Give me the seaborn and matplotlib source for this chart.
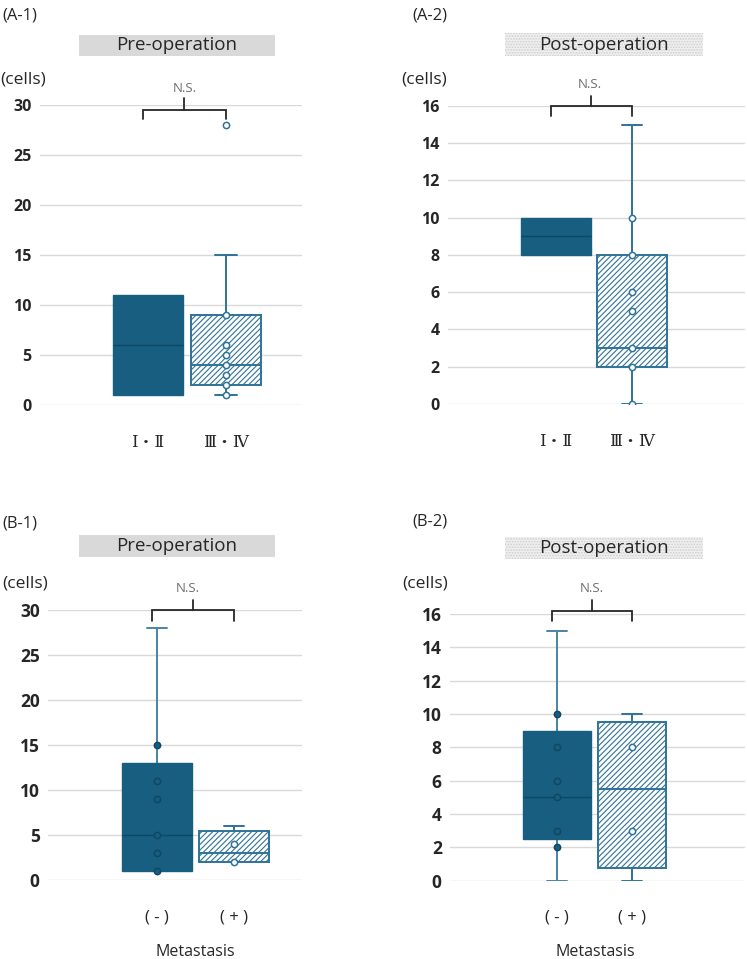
import matplotlib
matplotlib.use("Agg")
import matplotlib.pyplot as plt
import seaborn as sns
from matplotlib.patches import Rectangle
from matplotlib.transforms import blended_transform_factory

# ---------------- data ----------------
stage_cats = ["Ⅰ・Ⅱ", "Ⅲ・Ⅳ"]
meta_cats = ["( - )", "( + )"]

# A-1 pre-operation, by stage
A1_low = [1, 1]
A1_q1 = [1, 2]
A1_med = [6, 4]
A1_q3 = [11, 9]
A1_high = [11, 15]
A1_pts_g1 = []
A1_pts_g2 = [28, 9, 6, 5, 4, 3, 2, 1]

# A-2 post-operation, by stage
A2_low = [8, 0]
A2_q1 = [8, 2]
A2_med = [9, 3]
A2_q3 = [10, 8]
A2_high = [10, 15]
A2_pts_g1 = []
A2_pts_g2 = [10, 8, 6, 5, 3, 2, 0]

# B-1 pre-operation, by metastasis
B1_low = [1, 2]
B1_q1 = [1, 2]
B1_med = [5, 3]
B1_q3 = [13, 5.5]
B1_high = [28, 6]
B1_pts_g1 = [15, 11, 9, 5, 3, 1]
B1_pts_g2 = [4, 2]

# B-2 post-operation, by metastasis
B2_low = [0, 0]
B2_q1 = [2.5, 0.75]
B2_med = [5, 5.5]
B2_q3 = [9, 9.5]
B2_high = [15, 10]
B2_pts_g1 = [10, 8, 6, 5, 3, 2]
B2_pts_g2 = [8, 3]

# ---------------- style ----------------
sns.set_theme(style="white")
plt.rcParams['font.family'] = ['Open Sans', 'Noto Sans CJK JP', 'DejaVu Sans']
plt.rcParams['hatch.linewidth'] = 0.8

DARK = "#175E80"
DARK_EDGE = "#0F4862"
HATCH = "#2F7398"
WHISK = "#4A84A4"
GRID = "#D9D9D9"
TXT = "#262626"

W, H = 747, 959
fig = plt.figure(figsize=(W / 100, H / 100), dpi=100)


def fx(x):
    return x / W


def fy(y):
    return 1 - y / H


panels = [
    dict(name="(A-1)", box=(40, 105, 302, 405), centers=(148, 226), ymax=30, step=5,
         title="Pre-operation", dotted=False, cats=stage_cats, tsize=11.5,
         stats=(A1_low, A1_q1, A1_med, A1_q3, A1_high), pts=(A1_pts_g1, A1_pts_g2),
         lab=(2, 15), cells=(0, 80), trect=(79, 35, 275, 56), ns=(185, 88),
         br=(110, 119, 98), xlabel=None),
    dict(name="(A-2)", box=(448, 106, 745, 404), centers=(556, 632), ymax=16, step=2,
         title="Post-operation", dotted=True, cats=stage_cats, tsize=11.5,
         stats=(A2_low, A2_q1, A2_med, A2_q3, A2_high), pts=(A2_pts_g1, A2_pts_g2),
         lab=(412, 15), cells=(401, 80), trect=(505, 33, 703, 56), ns=(590, 85),
         br=(106, 116, 96), xlabel=None),
    dict(name="(B-1)", box=(48, 610, 302, 880), centers=(157, 234), ymax=30, step=5,
         title="Pre-operation", dotted=False, cats=meta_cats, tsize=12.5,
         stats=(B1_low, B1_q1, B1_med, B1_q3, B1_high), pts=(B1_pts_g1, B1_pts_g2),
         lab=(2, 523), cells=(2, 583), trect=(79, 535, 275, 557), ns=(188, 588),
         br=(610, 621, 600), xlabel=(195, 952)),
    dict(name="(B-2)", box=(450, 614, 745, 880.5), centers=(557, 632), ymax=16, step=2,
         title="Post-operation", dotted=True, cats=meta_cats, tsize=12.5,
         stats=(B2_low, B2_q1, B2_med, B2_q3, B2_high), pts=(B2_pts_g1, B2_pts_g2),
         lab=(412, 522), cells=(402, 583), trect=(505, 537, 703, 559), ns=(592, 589),
         br=(611, 621, 600), xlabel=(595, 952)),
]

for p in panels:
    l, t, r, b = p["box"]
    ax = fig.add_axes([fx(l), fy(b), (r - l) / W, (b - t) / H])
    c0, c1 = p["centers"]
    unit = c1 - c0

    # points (seaborn)
    g1, g2 = p["pts"]
    if len(g1):
        sns.stripplot(x=[p["cats"][0]] * len(g1), y=g1, order=p["cats"], jitter=False,
                      ax=ax, color=DARK, edgecolor=DARK_EDGE, linewidth=1.1, size=4.5,
                      zorder=6)
    if len(g2):
        sns.stripplot(x=[p["cats"][1]] * len(g2), y=g2, order=p["cats"], jitter=False,
                      ax=ax, color="white", edgecolor=HATCH, linewidth=1.1, size=4.5,
                      zorder=6)

    # boxes
    lo, q1, med, q3, hi = p["stats"]
    stats = []
    for i in range(2):
        stats.append(dict(whislo=lo[i], q1=q1[i], med=med[i], q3=q3[i], whishi=hi[i],
                          fliers=[]))
    bp = ax.bxp(stats, positions=[0, 1], widths=0.91, patch_artist=True,
                showfliers=False, manage_ticks=False, capwidths=0.27)
    for i in range(2):
        box = bp["boxes"][i]
        if i == 0:
            box.set_facecolor(DARK)
            box.set_edgecolor(DARK)
            box.set_linewidth(1.0)
            bp["medians"][i].set_color(DARK_EDGE)
            bp["medians"][i].set_linewidth(1.0)
            wc = WHISK
        else:
            box.set_facecolor("white")
            box.set_edgecolor(HATCH)
            box.set_hatch("//////")
            box.set_linewidth(1.4)
            bp["medians"][i].set_color(HATCH)
            bp["medians"][i].set_linewidth(1.4)
            wc = HATCH
        box.set_zorder(3)
        bp["medians"][i].set_zorder(4)
        for j in (2 * i, 2 * i + 1):
            bp["whiskers"][j].set_color(wc)
            bp["whiskers"][j].set_linewidth(1.4)
            bp["whiskers"][j].set_zorder(2.5)
            bp["caps"][j].set_color(wc)
            bp["caps"][j].set_linewidth(1.4)
            bp["caps"][j].set_zorder(2.5)
        if lo[i] == q1[i]:
            bp["caps"][2 * i].set_visible(False)
        if hi[i] == q3[i]:
            bp["caps"][2 * i + 1].set_visible(False)

    ax.set_xlim((l - c0) / unit, (r - c0) / unit)
    ax.set_ylim(0, p["ymax"])
    ax.set_yticks(range(0, p["ymax"] + 1, p["step"]))
    ax.set_xticks([0, 1])
    ax.set_xticklabels(p["cats"])
    for lab in ax.get_yticklabels():
        lab.set_fontweight("bold")
        lab.set_fontsize(p["tsize"])
        lab.set_color(TXT)
    for lab in ax.get_xticklabels():
        lab.set_fontsize(12)
        lab.set_color(TXT)
        if p["cats"] is stage_cats:
            lab.set_family(['DejaVu Serif', 'Noto Sans CJK JP'])
    ax.tick_params(axis="y", length=0, pad=6)
    ax.tick_params(axis="x", length=0, pad=21)
    ax.set_xlabel("")
    ax.set_ylabel("")
    for s in ax.spines.values():
        s.set_visible(False)
    ax.grid(axis="y", color=GRID, linewidth=1.0)
    ax.grid(axis="x", visible=False)
    ax.set_axisbelow(True)

    # bracket
    tr = blended_transform_factory(ax.transData, fig.transFigure)
    yh, yl, yt = p["br"]
    xa, xb = -0.07, 1.0
    ax.plot([xa, xa, xb, xb], [fy(yl), fy(yh), fy(yh), fy(yl)], transform=tr,
            color=TXT, lw=1.3, clip_on=False, solid_joinstyle="miter")
    xm = (xa + xb) / 2
    ax.plot([xm, xm], [fy(yh), fy(yt)], transform=tr, color=TXT, lw=1.3, clip_on=False)

    # texts
    fig.text(fx(p["lab"][0]), fy(p["lab"][1]), p["name"], ha="left", va="center",
             fontsize=12, color=TXT)
    fig.text(fx(p["cells"][0]), fy(p["cells"][1]), "(cells)", ha="left", va="center",
             fontsize=12.5, color=TXT)
    fig.text(fx(p["ns"][0]), fy(p["ns"][1]), "N.S.", ha="center", va="center",
             fontsize=9.5, color="#6E6E6E")
    tl, tt, trr, tb = p["trect"]
    if p["dotted"]:
        rect = Rectangle((fx(tl), fy(tb)), (trr - tl) / W, (tb - tt) / H,
                         transform=fig.transFigure, facecolor="#EFEFEF",
                         edgecolor="#CFCFCF", hatch="......", linewidth=0)
    else:
        rect = Rectangle((fx(tl), fy(tb)), (trr - tl) / W, (tb - tt) / H,
                         transform=fig.transFigure, facecolor="#D9D9D9",
                         edgecolor="none", linewidth=0)
    fig.add_artist(rect)
    fig.text(fx((tl + trr) / 2), fy((tt + tb) / 2), p["title"], ha="center", va="center",
             fontsize=13.5, color=TXT)
    if p["xlabel"] is not None:
        fig.text(fx(p["xlabel"][0]), fy(p["xlabel"][1]), "Metastasis", ha="center",
                 va="center", fontsize=11.5, color=TXT)

fig.savefig("out.png", dpi=100)
